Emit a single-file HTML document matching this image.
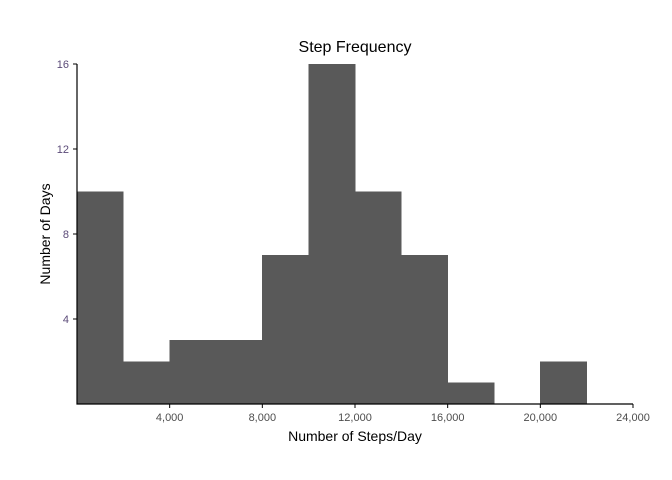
<!DOCTYPE html>
<html><head><meta charset="utf-8"><style>body{margin:0;background:#fff}svg{display:block}text{font-family:"Liberation Sans",sans-serif}</style></head>
<body>
<svg id="chart" width="672" height="480" viewBox="0 0 672 480"></svg>
<script>
const binStarts=[0,2000,4000,6000,8000,10000,12000,14000,16000,18000,20000];
const binWidth=2000;
const counts=[10,2,3,3,7,16,10,7,1,0,2];
const xTicks=[4000,8000,12000,16000,20000,24000];
const yTicks=[4,8,12,16];
const NS='http://www.w3.org/2000/svg';
const svg=document.getElementById('chart');
const x=v=>77+v*(556/24000);
const y=v=>404-v*(340/16);
function el(tag,attrs,txt){const e=document.createElementNS(NS,tag);for(const k in attrs)e.setAttribute(k,attrs[k]);if(txt!==undefined)e.textContent=txt;svg.appendChild(e);return e;}
counts.forEach((c,i)=>{if(c<=0)return;
const r=el('rect',{x:x(binStarts[i]),y:y(c),width:x(binStarts[i]+binWidth)-x(binStarts[i]),height:y(0)-y(c),fill:'#595959',stroke:'#595959','stroke-width':0.5,'shape-rendering':'crispEdges'});

});
const ax=el('path',{d:`M${x(0)} ${y(16)}V${y(0)}H${x(24000)}`,stroke:'#000',fill:'none','stroke-width':1.2});


xTicks.forEach(t=>{el('line',{x1:x(t),x2:x(t),y1:y(0),y2:y(0)+4,stroke:'#000'});
const l=el('text',{x:x(t),y:421,'text-anchor':'middle','font-size':11,fill:'#4d4d4d'},t.toLocaleString('en-US'));

});
yTicks.forEach(t=>{el('line',{x1:x(0)-4,x2:x(0),y1:y(t),y2:y(t),stroke:'#000'});
const l=el('text',{x:69,y:y(t)+4,'text-anchor':'end','font-size':11,fill:'#5b4a78'},t);

});
const ti=el('text',{x:355,y:52,'text-anchor':'middle','font-size':16,fill:'#000'},'Step Frequency');


const xt=el('text',{x:355,y:441,'text-anchor':'middle','font-size':14,fill:'#000'},'Number of Steps/Day');


const yt=el('text',{x:50,y:234,'text-anchor':'middle','font-size':14,fill:'#000',transform:'rotate(-90 50 234)'},'Number of Days');


</script>
</body></html>
